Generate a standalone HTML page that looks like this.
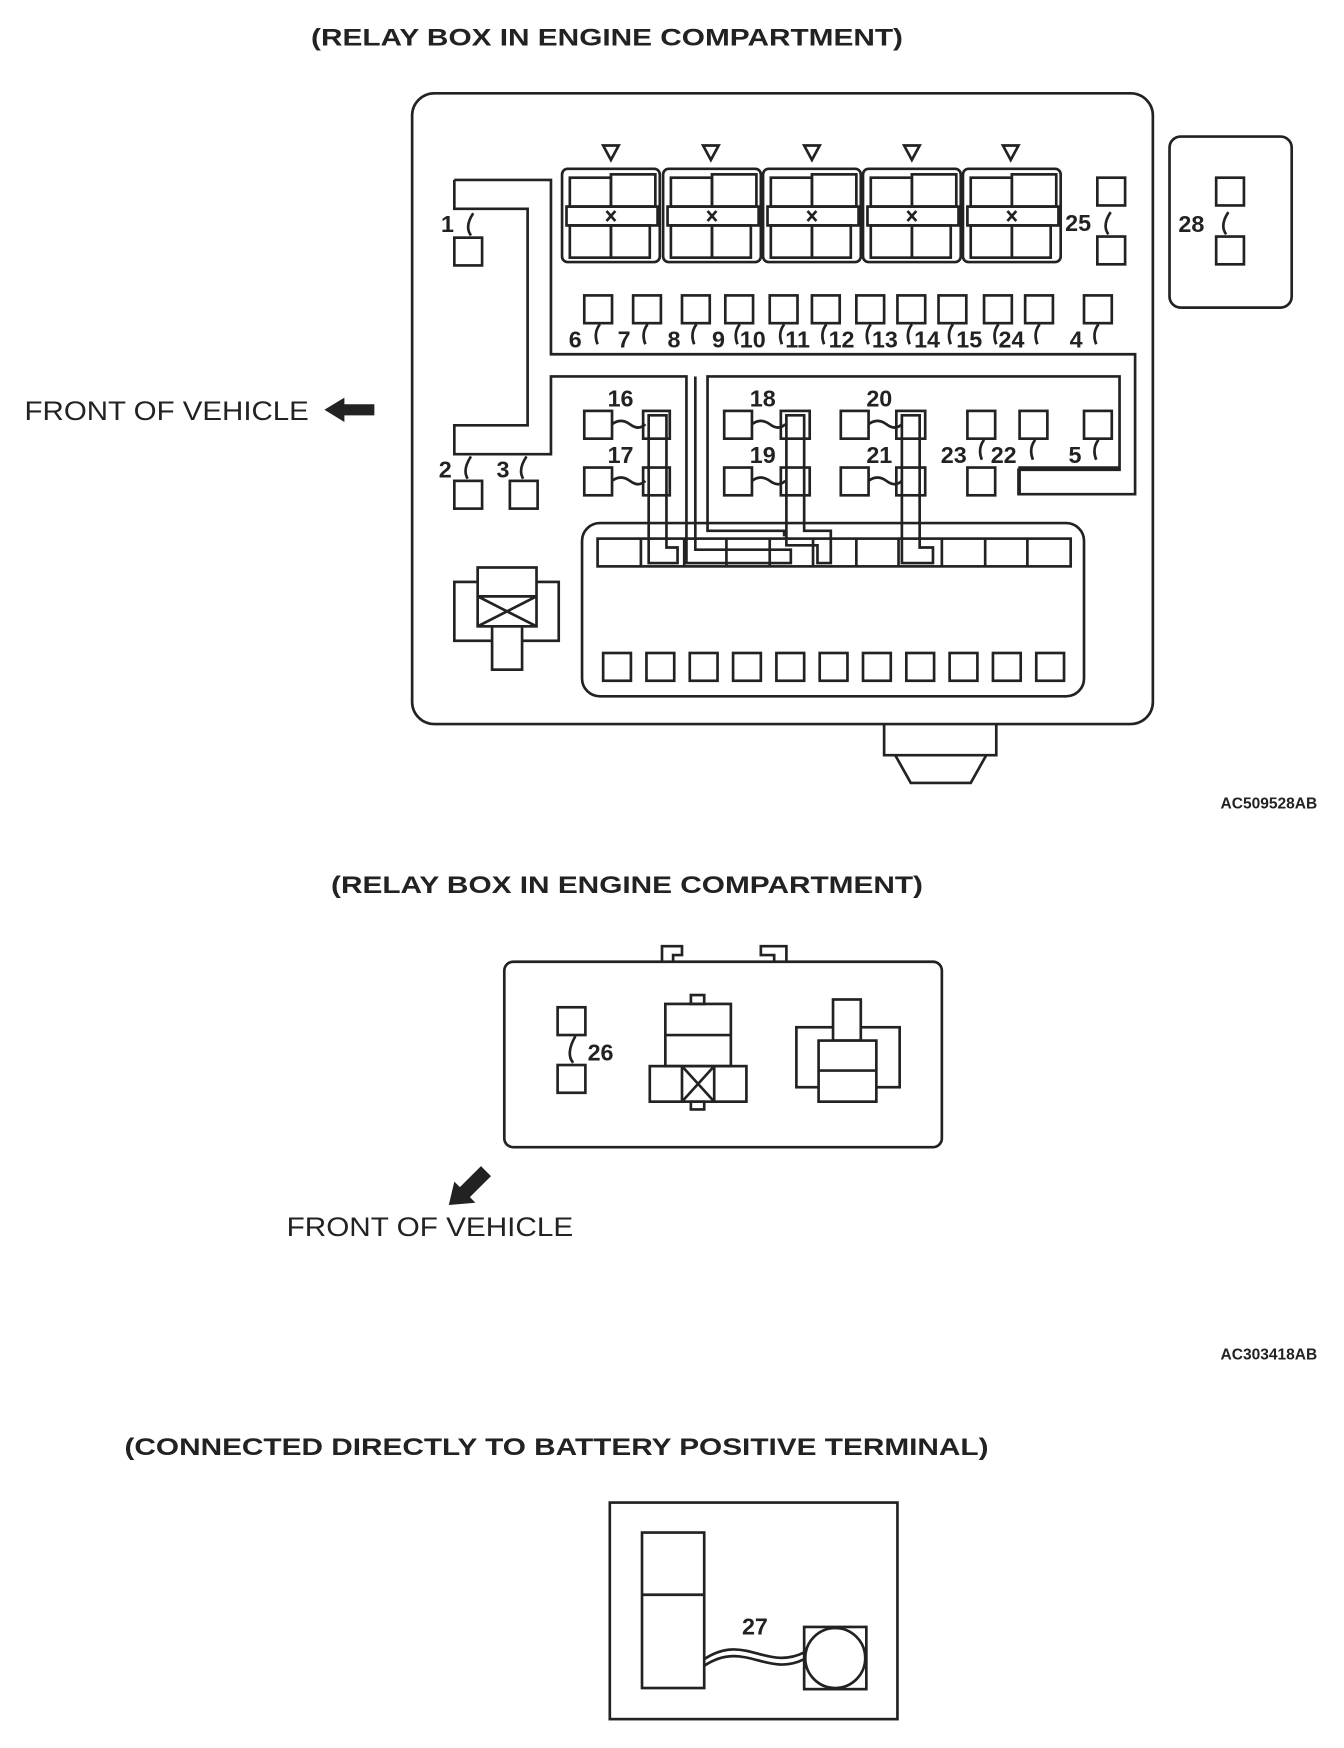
<!DOCTYPE html>
<html><head><meta charset="utf-8"><style>
html,body{margin:0;padding:0;background:#fff;}
svg{display:block;}
text{font-family:"Liberation Sans",sans-serif;fill:#222;}
</style></head><body>
<svg width="1344" height="1748" viewBox="0 0 1210 1574" xmlns="http://www.w3.org/2000/svg">
<defs>
<g id="rg" fill="none" stroke="#222" stroke-width="2.4">
 <rect x="0" y="0" width="88" height="84" rx="5"/>
 <rect x="7" y="8" width="37" height="26"/>
 <rect x="44" y="5" width="40" height="29"/>
 <rect x="4" y="34" width="82" height="17"/>
 <rect x="7" y="51" width="37" height="29"/>
 <rect x="44" y="51" width="35" height="29"/>
 <path d="M40 38 L48 47 M48 38 L40 47"/>
</g>
<g id="sq"><rect width="25" height="25" fill="none" stroke="#222" stroke-width="2.4"/></g>
</defs>
<g fill="none" stroke="#222" stroke-width="2.4">
<rect x="371" y="84" width="667" height="568" rx="20"/>
<rect x="1053" y="123" width="110" height="154" rx="10"/>
<use href="#rg" x="506" y="152"/><use href="#rg" x="597" y="152"/><use href="#rg" x="687" y="152"/><use href="#rg" x="777" y="152"/><use href="#rg" x="867" y="152"/>
<path d="M543 131 L557 131 L550 144 Z M633 131 L647 131 L640 144 Z M724 131 L738 131 L731 144 Z M814 131 L828 131 L821 144 Z M903 131 L917 131 L910 144 Z"/>
<path d="M409 162 L496 162 L496 319 L1022 319 L1022 445 L917 445 L917 423 L1008 423 L1008 339 L637 339 L637 478 L706 478 L706 483"/>
<path d="M409 162 L409 188 L475 188 L475 383 L409 383 L409 409 L496 409 L496 339 L618 339 L618 505"/>
<use href="#sq" x="988" y="160"/><use href="#sq" x="988" y="213"/>
<use href="#sq" x="1095" y="160"/><use href="#sq" x="1095" y="213"/>
<use href="#sq" x="409" y="214"/>
<use href="#sq" x="526" y="266"/><use href="#sq" x="570" y="266"/><use href="#sq" x="614" y="266"/><use href="#sq" x="653" y="266"/><use href="#sq" x="693" y="266"/><use href="#sq" x="731" y="266"/><use href="#sq" x="771" y="266"/><use href="#sq" x="808" y="266"/><use href="#sq" x="845" y="266"/><use href="#sq" x="886" y="266"/><use href="#sq" x="923" y="266"/><use href="#sq" x="976" y="266"/>
<use href="#sq" x="526" y="370"/><use href="#sq" x="652" y="370"/><use href="#sq" x="757" y="370"/><use href="#sq" x="871" y="370"/><use href="#sq" x="918" y="370"/><use href="#sq" x="976" y="370"/>
<use href="#sq" x="526" y="421"/><use href="#sq" x="652" y="421"/><use href="#sq" x="757" y="421"/><use href="#sq" x="871" y="421"/>
<path d="M918 446 L918 421 L1008 421"/>
<use href="#sq" x="409" y="433"/><use href="#sq" x="459" y="433"/>
<path d="M551 382 q8 -6 16 0 t14 0 M551 433 q8 -6 16 0 t14 0 M677 382 q8 -6 16 0 t14 0 M677 433 q8 -6 16 0 t14 0 M782 382 q8 -6 16 0 t14 0 M782 433 q8 -6 16 0 t14 0"/>
<path d="M424 212 q-6 -8 2 -20 M421 431 q-5 -8 3 -20 M471 431 q-5 -8 3 -20 M998 211 q-6 -8 2 -20 M1104 211 q-6 -8 2 -20"/>
<path d="M540 292 q-6 8 -2 18 M583 292 q-6 8 -2 18 M627 292 q-6 8 -2 18 M666 292 q-6 8 -2 18 M706 292 q-6 8 -2 18 M744 292 q-6 8 -2 18 M784 292 q-6 8 -2 18 M821 292 q-6 8 -2 18 M858 292 q-6 8 -2 18 M899 292 q-6 8 -2 18 M936 292 q-6 8 -2 18 M989 292 q-6 8 -2 18"/>
<path d="M886 396 q-6 8 -2 18 M932 396 q-6 8 -2 18 M989 396 q-6 8 -2 18"/>
<rect x="579" y="370" width="24" height="25"/><rect x="579" y="421" width="24" height="25"/>
<path d="M584 374 L600 374 L600 493 L610 493 L610 507 L584 507 Z"/>
<rect x="703" y="370" width="26" height="25"/><rect x="703" y="421" width="26" height="25"/>
<path d="M708 374 L724 374 L724 478 L748 478 L748 507 L736 507 L736 491 L708 491 Z"/>
<rect x="807" y="370" width="26" height="25"/><rect x="807" y="421" width="26" height="25"/>
<path d="M812 374 L828 374 L828 493 L840 493 L840 507 L812 507 Z"/>
<path d="M618 505 L618 507 L712 507 L712 495 L626 495 L626 339"/>
<rect x="524" y="471" width="452" height="156" rx="16"/>
<rect x="538" y="485" width="426" height="25"/>
<path d="M577 485 V510 M616 485 V510 M654 485 V510 M693 485 V510 M732 485 V510 M771 485 V510 M809 485 V510 M848 485 V510 M887 485 V510 M925 485 V510"/>
<use href="#sq" x="543" y="588"/><use href="#sq" x="582" y="588"/><use href="#sq" x="621" y="588"/><use href="#sq" x="660" y="588"/><use href="#sq" x="699" y="588"/><use href="#sq" x="738" y="588"/><use href="#sq" x="777" y="588"/><use href="#sq" x="816" y="588"/><use href="#sq" x="855" y="588"/><use href="#sq" x="894" y="588"/><use href="#sq" x="933" y="588"/>
<rect x="409" y="524" width="94" height="53"/>
<rect x="430" y="511" width="53" height="53" fill="#fff"/>
<path d="M430 537 L483 537 M430 537 L483 564 M483 537 L430 564"/>
<rect x="443" y="564" width="27" height="39" fill="#fff"/>
<path d="M796 652 L796 680 L897 680 L897 652 M806 680 L820 705 L874 705 L888 680"/>
</g>
<text x="280" y="41" font-size="22" font-weight="bold" textLength="533" lengthAdjust="spacingAndGlyphs">(RELAY BOX IN ENGINE COMPARTMENT)</text>
<g font-size="21" font-weight="bold">
<text x="397" y="209">1</text><text x="959" y="208">25</text><text x="1061" y="209">28</text>
<text x="512" y="313">6</text><text x="556" y="313">7</text><text x="601" y="313">8</text><text x="641" y="313">9</text><text x="666" y="313">10</text><text x="707" y="313">11</text><text x="746" y="313">12</text><text x="785" y="313">13</text><text x="823" y="313">14</text><text x="861" y="313">15</text><text x="899" y="313">24</text><text x="963" y="313">4</text>
<text x="547" y="366">16</text><text x="547" y="417">17</text><text x="675" y="366">18</text><text x="675" y="417">19</text><text x="780" y="366">20</text><text x="780" y="417">21</text>
<text x="847" y="417">23</text><text x="892" y="417">22</text><text x="962" y="417">5</text>
<text x="395" y="430">2</text><text x="447" y="430">3</text>
</g>
<text x="22" y="378" font-size="24" textLength="256" lengthAdjust="spacingAndGlyphs">FRONT OF VEHICLE</text>
<path d="M292 369 L310 358 L310 364 L337 364 L337 374 L310 374 L310 380 Z" fill="#222"/>
<text x="1186" y="728" font-size="14" font-weight="bold" text-anchor="end">AC509528AB</text>

<text x="298" y="804" font-size="22" font-weight="bold" textLength="533" lengthAdjust="spacingAndGlyphs">(RELAY BOX IN ENGINE COMPARTMENT)</text>
<g fill="none" stroke="#222" stroke-width="2.4">
<rect x="454" y="866" width="394" height="167" rx="8"/>
<path d="M596 866 V852 H614 V860 H606 V866 M708 866 V852 H685 V860 H697 V866"/>
<use href="#sq" x="502" y="907"/><use href="#sq" x="502" y="959"/>
<path d="M516 957 q-7 -8 2 -24"/>
<rect x="622" y="896" width="12" height="8"/>
<rect x="599" y="904" width="59" height="56"/><path d="M599 932 H658"/>
<rect x="585" y="960" width="87" height="32"/><path d="M614 960 V992 M643 960 V992 M614 960 L643 992 M643 960 L614 992"/>
<rect x="622" y="992" width="12" height="7"/>
<rect x="717" y="925" width="93" height="54"/>
<rect x="750" y="900" width="25" height="37" fill="#fff"/>
<rect x="737" y="937" width="52" height="55" fill="#fff"/><path d="M737 964 H789"/>
</g>
<text x="529" y="955" font-size="21" font-weight="bold">26</text>
<path d="M404 1085 L409 1064 L414 1069 L433 1050 L442 1059 L423 1078 L428 1083 Z" fill="#222"/>
<text x="258" y="1113" font-size="24" textLength="258" lengthAdjust="spacingAndGlyphs">FRONT OF VEHICLE</text>
<text x="1186" y="1224" font-size="14" font-weight="bold" text-anchor="end">AC303418AB</text>

<text x="112" y="1310" font-size="22" font-weight="bold" textLength="778" lengthAdjust="spacingAndGlyphs">(CONNECTED DIRECTLY TO BATTERY POSITIVE TERMINAL)</text>
<g fill="none" stroke="#222" stroke-width="2.4">
<rect x="549" y="1353" width="259" height="195"/>
<rect x="578" y="1380" width="56" height="140"/><path d="M578 1436 H634"/>
<rect x="724" y="1465" width="56" height="56"/><circle cx="752" cy="1493" r="27"/>
<path d="M634 1494 C670 1470 690 1505 724 1488 M634 1500 C670 1476 690 1511 724 1494"/>
</g>
<text x="668" y="1472" font-size="21" font-weight="bold">27</text>
</svg>
</body></html>
